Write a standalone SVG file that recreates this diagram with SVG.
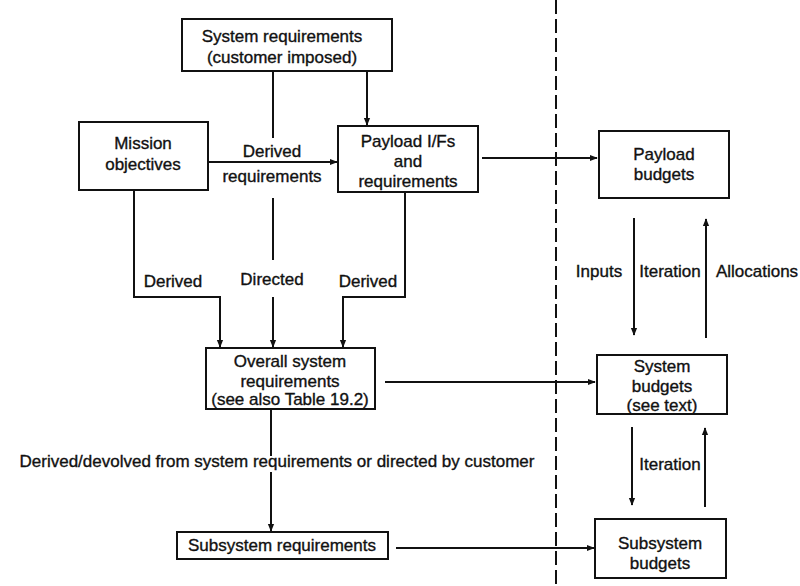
<svg xmlns="http://www.w3.org/2000/svg" width="800" height="586" viewBox="0 0 800 586">
<style>
.box{fill:#fff;stroke:#111;stroke-width:2}
text{font-family:"Liberation Sans",Arial,sans-serif;font-size:17px;fill:#111;stroke:#111;stroke-width:0.35;text-anchor:middle}
.ln{fill:none;stroke:#111;stroke-width:2}
</style>
<defs>
<marker id="ah" viewBox="0 0 10 10" refX="9" refY="5" markerWidth="8" markerHeight="8" markerUnits="userSpaceOnUse" orient="auto">
<path d="M0,1 L10,5 L0,9 z" fill="#111"/>
</marker>
</defs>
<rect width="800" height="586" fill="#fff"/>
<g id="connectors">
<path class="ln" d="M273,71 V138"/>
<path class="ln" d="M273,198 V260"/>
<path class="ln" d="M273,297 V347" marker-end="url(#ah)"/>
<path class="ln" d="M367,71 V125" marker-end="url(#ah)"/>
<path class="ln" d="M208,162 H337" marker-end="url(#ah)"/>
<path class="ln" d="M134,190 V297 H220 V347" marker-end="url(#ah)"/>
<path class="ln" d="M405,192 V297 H343 V347" marker-end="url(#ah)"/>
<path class="ln" d="M482,158 H597" marker-end="url(#ah)"/>
<path class="ln" d="M385,382 H595" marker-end="url(#ah)"/>
<path class="ln" d="M271,410 V456"/>
<path class="ln" d="M271,472 V531" marker-end="url(#ah)"/>
<path class="ln" d="M396,548 H594" marker-end="url(#ah)"/>
<path class="ln" d="M634,218 V335" marker-end="url(#ah)"/>
<path class="ln" d="M706,338 V219" marker-end="url(#ah)"/>
<path class="ln" d="M632,427 V505" marker-end="url(#ah)"/>
<path class="ln" d="M705,507 V428" marker-end="url(#ah)"/>
<path class="ln" d="M556,0 V586" stroke-dasharray="14 5"/>
<text x="272" y="157">Derived</text>
<text x="272" y="182">requirements</text>
<text x="173" y="287">Derived</text>
<text x="272" y="285">Directed</text>
<text x="368" y="287">Derived</text>
<text x="277" y="467">Derived/devolved from system requirements or directed by customer</text>
<text x="599" y="277">Inputs</text>
<text x="670" y="277">Iteration</text>
<text x="757" y="277">Allocations</text>
<text x="670" y="470">Iteration</text>
</g>
<g id="system-requirements">
<rect class="box" x="182" y="19" width="210" height="52"/>
<text x="282" y="42">System requirements</text>
<text x="282" y="63">(customer imposed)</text>
</g>
<g id="mission-objectives">
<rect class="box" x="79" y="122" width="129" height="68"/>
<text x="143" y="149">Mission</text>
<text x="143" y="170">objectives</text>
</g>
<g id="payload-ifs">
<rect class="box" x="338" y="126" width="140" height="66"/>
<text x="408" y="147">Payload I/Fs</text>
<text x="408" y="167">and</text>
<text x="408" y="187">requirements</text>
</g>
<g id="overall-system-requirements">
<rect class="box" x="206" y="348" width="169" height="61"/>
<text x="290" y="367">Overall system</text>
<text x="290" y="387">requirements</text>
<text x="290" y="405">(see also Table 19.2)</text>
</g>
<g id="subsystem-requirements">
<rect class="box" x="177" y="532" width="211" height="27"/>
<text x="282" y="551">Subsystem requirements</text>
</g>
<g id="payload-budgets">
<rect class="box" x="599" y="131" width="130" height="67"/>
<text x="664" y="160">Payload</text>
<text x="664" y="180">budgets</text>
</g>
<g id="system-budgets">
<rect class="box" x="597" y="355" width="130" height="59"/>
<text x="662" y="372">System</text>
<text x="662" y="392">budgets</text>
<text x="662" y="411">(see text)</text>
</g>
<g id="subsystem-budgets">
<rect class="box" x="595" y="519" width="131" height="59"/>
<text x="660" y="549">Subsystem</text>
<text x="660" y="569">budgets</text>
</g>
</svg>
